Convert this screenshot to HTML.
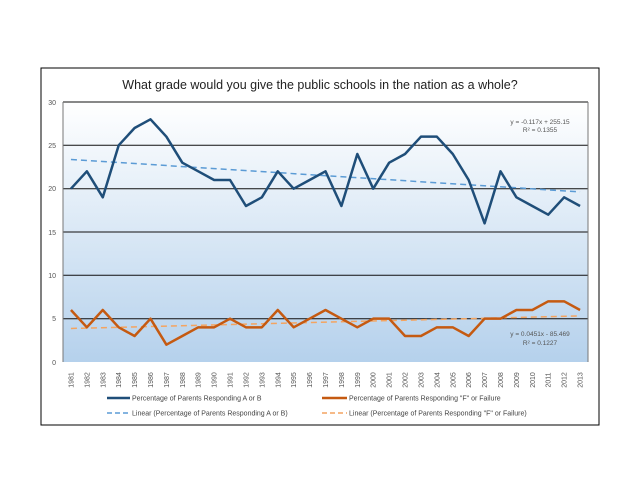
<!DOCTYPE html>
<html><head><meta charset="utf-8"><style>
body{margin:0;background:#fff;width:640px;height:494px;overflow:hidden}
svg{display:block}
text{font-family:"Liberation Sans",sans-serif}
</style></head><body>
<svg width="640" height="494" viewBox="0 0 640 494">
<defs><linearGradient id="g" x1="0" y1="0" x2="0" y2="1">
<stop offset="0" stop-color="#ffffff"/><stop offset="1" stop-color="#b5d1ec"/></linearGradient></defs>
<rect x="41" y="68" width="558" height="357" fill="#fff" stroke="#000" stroke-width="1"/>
<text x="320" y="89" font-size="12.5" text-anchor="middle" fill="#222">What grade would you give the public schools in the nation as a whole?</text>
<rect x="63" y="102" width="525" height="260" fill="url(#g)"/>
<g stroke="#111" stroke-width="1">
<line x1="63" y1="102" x2="588" y2="102"/>
<line x1="63" y1="145.3" x2="588" y2="145.3"/>
<line x1="63" y1="188.7" x2="588" y2="188.7"/>
<line x1="63" y1="232" x2="588" y2="232"/>
<line x1="63" y1="275.3" x2="588" y2="275.3"/>
<line x1="63" y1="318.7" x2="588" y2="318.7"/>
</g>
<line x1="63" y1="102" x2="63" y2="362" stroke="#777"/>
<line x1="588" y1="102" x2="588" y2="362" stroke="#777"/>
<g font-size="7" fill="#555" text-anchor="end">
<text x="56" y="105">30</text><text x="56" y="148">25</text><text x="56" y="191">20</text>
<text x="56" y="235">15</text><text x="56" y="278">10</text><text x="56" y="321">5</text><text x="56" y="365">0</text>
</g>
<g id="yrs" font-size="7" fill="#555"></g>
<g id="lines"></g>
<text x="540" y="124" font-size="6.5" fill="#555" text-anchor="middle">y = -0.117x + 255.15</text>
<text x="540" y="132" font-size="6.5" fill="#555" text-anchor="middle">R² = 0.1355</text>
<text x="540" y="336" font-size="6.5" fill="#555" text-anchor="middle">y = 0.0451x - 85.469</text>
<text x="540" y="345" font-size="6.5" fill="#555" text-anchor="middle">R² = 0.1227</text>
<g font-size="7" fill="#444">
<line x1="107" y1="398" x2="130" y2="398" stroke="#1f4e79" stroke-width="2.5"/>
<text x="132" y="400.5">Percentage of Parents Responding A or B</text>
<line x1="107" y1="413" x2="130" y2="413" stroke="#5b9bd5" stroke-width="1.5" stroke-dasharray="5,3"/>
<text x="132" y="415.5">Linear (Percentage of Parents Responding A or B)</text>
<line x1="322" y1="398" x2="347" y2="398" stroke="#c55a11" stroke-width="2.5"/>
<text x="349" y="400.5">Percentage of Parents Responding "F" or Failure</text>
<line x1="322" y1="413" x2="347" y2="413" stroke="#f4a460" stroke-width="1.5" stroke-dasharray="5,3"/>
<text x="349" y="415.5">Linear (Percentage of Parents Responding "F" or Failure)</text>
</g>
</svg>
<script>
var A=[20,22,19,25,27,28,26,23,22,21,21,18,19,22,20,21,22,18,24,20,23,24,26,26,24,21,16,22,19,18,17,19,18];
var F=[6,4,6,4,3,5,2,3,4,4,5,4,4,6,4,5,6,5,4,5,5,3,3,4,4,3,5,5,6,6,7,7,6];
var ns="http://www.w3.org/2000/svg";
function X(i){return 63+(i+0.5)*525/33}
function Y(v){return 362-v*260/30}
var yrs=document.getElementById('yrs'),L=document.getElementById('lines');
for(var i=0;i<33;i++){var t=document.createElementNS(ns,'text');var x=X(i)+2.5,y=380;
t.setAttribute('transform','translate('+x+','+y+') rotate(-90)');t.setAttribute('text-anchor','middle');t.textContent=1981+i;yrs.appendChild(t);}
function pl(d,c,w,dash){var p=document.createElementNS(ns,'polyline');p.setAttribute('points',d);p.setAttribute('fill','none');p.setAttribute('stroke',c);p.setAttribute('stroke-width',w);p.setAttribute('stroke-linejoin','round');if(dash)p.setAttribute('stroke-dasharray',dash);L.appendChild(p);}
pl(X(0)+','+Y(23.37)+' '+X(32)+','+Y(19.63),'#5b9bd5',1.5,'6,4');
pl(X(0)+','+Y(3.87)+' '+X(32)+','+Y(5.32),'#f4a460',1.5,'6,4');
pl(A.map(function(v,i){return X(i)+','+Y(v)}).join(' '),'#1f4e79',2.5);
pl(F.map(function(v,i){return X(i)+','+Y(v)}).join(' '),'#c55a11',2.5);
</script>
</body></html>
